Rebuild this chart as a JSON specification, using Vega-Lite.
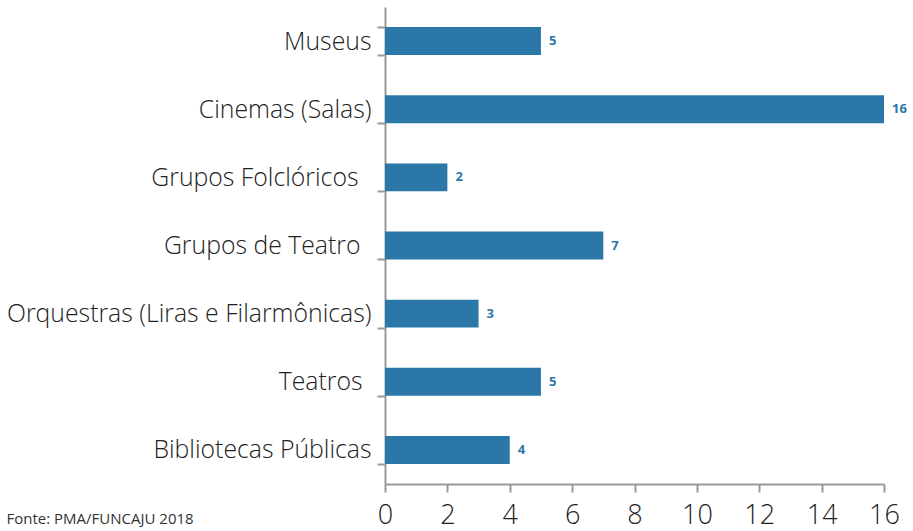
{
  "$schema": "https://vega.github.io/schema/vega-lite/v6.json",
  "width": 499,
  "height": 477,
  "autosize": {"type": "none"},
  "padding": {"left": 385, "top": 7, "right": 29, "bottom": 47},
  "background": "white",
  "config": {"view": {"stroke": null}, "font": "Open Sans"},
  "title": {
    "text": "Fonte: PMA/FUNCAJU 2018",
    "orient": "bottom",
    "anchor": "start",
    "frame": "bounds",
    "fontSize": 15,
    "fontWeight": "normal",
    "color": "#333333",
    "font": "Open Sans",
    "offset": -16,
    "dx": 0
  },
  "data": {
    "values": [
      {"categoria": "Museus", "valor": 5},
      {"categoria": "Cinemas (Salas)", "valor": 16},
      {"categoria": "Grupos Folclóricos", "valor": 2},
      {"categoria": "Grupos de Teatro", "valor": 7},
      {"categoria": "Orquestras (Liras e Filarmônicas)", "valor": 3},
      {"categoria": "Teatros", "valor": 5},
      {"categoria": "Bibliotecas Públicas", "valor": 4}
    ]
  },
  "encoding": {
    "y": {
      "field": "categoria",
      "type": "nominal",
      "sort": null,
      "scale": {"paddingInner": 0.59, "paddingOuter": 0.295},
      "axis": {
        "title": null,
        "domainColor": "#999999",
        "domainWidth": 2,
        "tickColor": "#999999",
        "tickWidth": 2,
        "tickSize": 8,
        "tickBand": "extent",
        "labelFontSize": 24.8,
        "labelFontWeight": 300,
        "labelColor": "#222222",
        "labelLimit": 400,
        "labelOffset": 1,
        "labelPadding": {
          "condition": [
            {"test": "datum.value === 'Grupos Folclóricos'", "value": 19},
            {"test": "datum.value === 'Grupos de Teatro'", "value": 17},
            {"test": "datum.value === 'Teatros'", "value": 15}
          ],
          "value": 6
        }
      }
    },
    "x": {
      "field": "valor",
      "type": "quantitative",
      "scale": {"domain": [0, 16], "nice": false},
      "axis": {
        "title": null,
        "values": [0, 2, 4, 6, 8, 10, 12, 14, 16],
        "grid": false,
        "domainColor": "#999999",
        "domainWidth": 2,
        "tickColor": "#999999",
        "tickWidth": 2,
        "tickSize": 8,
        "labelFontSize": 27,
        "labelFontWeight": 300,
        "labelColor": "#222222",
        "labelPadding": 10,
        "labelFlush": false
      }
    }
  },
  "layer": [
    {"mark": {"type": "bar", "color": "#2b77a8"}},
    {
      "mark": {"type": "text", "align": "left", "dx": 8, "fontSize": 13, "fontWeight": "bold", "color": "#2b77a8"},
      "encoding": {"text": {"field": "valor", "type": "quantitative"}}
    }
  ]
}
